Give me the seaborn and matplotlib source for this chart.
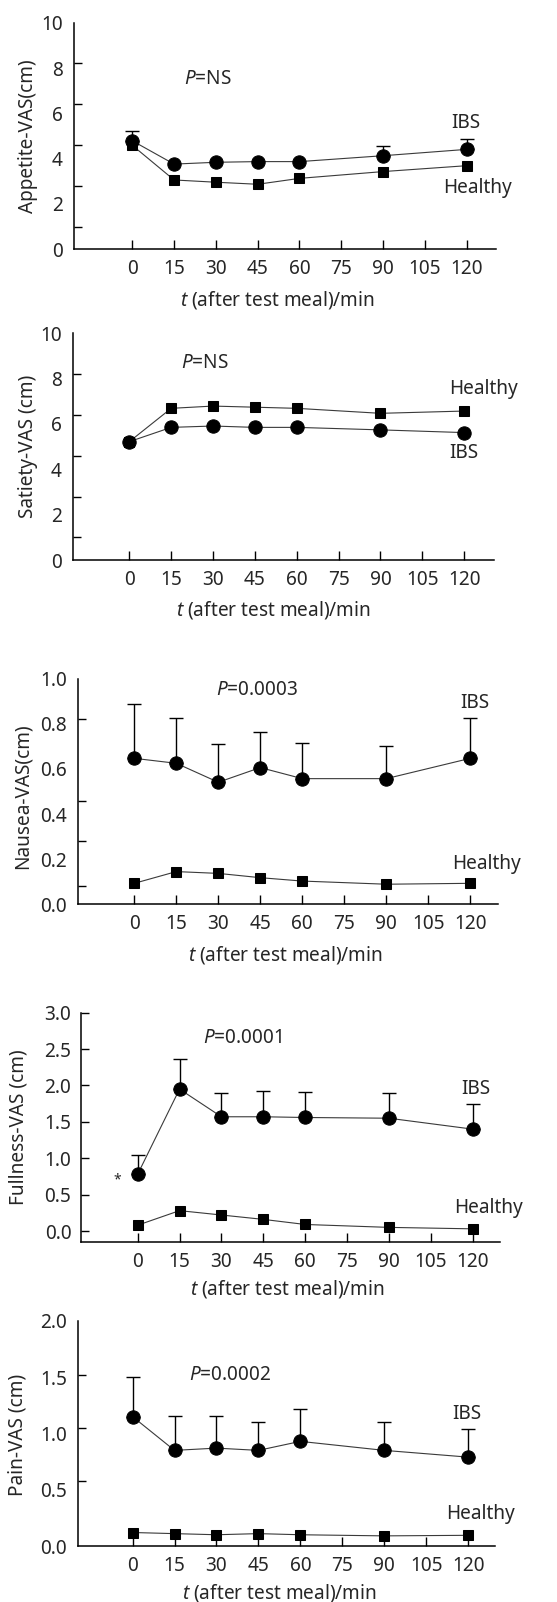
import matplotlib
matplotlib.use('Agg')
import matplotlib.pyplot as plt
import pandas as pd
import seaborn as sns

# time points and x tick labels
times = [0, 15, 30, 45, 60, 90, 120]
xticks = [0, 15, 30, 45, 60, 75, 90, 105, 120]

# values (IBS mean, IBS upper error end, healthy mean)
appetite_ibs = [4.79, 3.76, 3.84, 3.87, 3.87, 4.13, 4.41]
appetite_ibs_top = [5.24, None, None, None, None, 4.56, 4.85]
appetite_healthy = [4.59, 3.06, 2.96, 2.87, 3.13, 3.43, 3.69]

satiety_ibs = [5.22, 5.85, 5.91, 5.85, 5.85, 5.74, 5.62]
satiety_ibs_top = [None] * 7
satiety_healthy = [5.22, 6.69, 6.79, 6.74, 6.69, 6.47, 6.57]

nausea_ibs = [0.647, 0.625, 0.541, 0.606, 0.557, 0.557, 0.647]
nausea_ibs_top = [0.886, 0.827, 0.709, 0.765, 0.713, 0.703, 0.827]
nausea_healthy = [0.093, 0.145, 0.137, 0.118, 0.103, 0.089, 0.093]

fullness_ibs = [0.78, 1.95, 1.57, 1.57, 1.56, 1.55, 1.40]
fullness_ibs_top = [1.04, 2.36, 1.89, 1.92, 1.91, 1.89, 1.75]
fullness_healthy = [0.08, 0.28, 0.22, 0.16, 0.09, 0.05, 0.03]

pain_ibs = [1.15, 0.85, 0.87, 0.85, 0.93, 0.85, 0.79]
pain_ibs_top = [1.50, 1.16, 1.16, 1.10, 1.22, 1.10, 1.04]
pain_healthy = [0.12, 0.11, 0.10, 0.11, 0.10, 0.09, 0.095]

# y tick labels and the small tick marks as drawn in the original
labels_10 = [0, 2, 4, 6, 8, 10]
marks_10 = [10, 8.2, 6.4, 4.6, 2.8, 1.0]
labels_1 = [0.0, 0.2, 0.4, 0.6, 0.8, 1.0]
marks_1 = [1.0, 0.82, 0.46, 0.28, 0.08]
labels_3 = [0.0, 0.5, 1.0, 1.5, 2.0, 2.5, 3.0]
labels_2 = [0.0, 0.5, 1.0, 1.5, 2.0]
marks_2 = [2.0, 1.52, 1.05, 0.58]

W, H = 557, 1602

panels = [
    dict(ylabel='Appetite-VAS(cm)', ibs=appetite_ibs, top=appetite_ibs_top, healthy=appetite_healthy,
         box=(74, 22.7, 496, 249.3), xlim=(-20.9, 130.5), ylim=(0, 10),
         labels=labels_10, fmt='{:.0f}', marks=marks_10, ylab_xy=(-0.109, 0.5), xlab_xy=(0.481, -0.224),
         ptext='NS', p_xy=(27, 7.5), ibs_xy=(119.7, 5.57), healthy_xy=(124, 2.7)),
    dict(ylabel='Satiety-VAS (cm)', ibs=satiety_ibs, top=satiety_ibs_top, healthy=satiety_healthy,
         box=(72.7, 333.3, 494.3, 560), xlim=(-20.3, 130.8), ylim=(0, 10),
         labels=labels_10, fmt='{:.0f}', marks=marks_10, ylab_xy=(-0.106, 0.5), xlab_xy=(0.475, -0.221),
         ptext='NS', p_xy=(27, 8.69), ibs_xy=(120, 4.72), healthy_xy=(126.8, 7.54)),
    dict(ylabel='Nausea-VAS(cm)', ibs=nausea_ibs, top=nausea_ibs_top, healthy=nausea_healthy,
         box=(78.3, 678.7, 497.7, 904.3), xlim=(-20.0, 129.8), ylim=(0, 1.0),
         labels=labels_1, fmt='{:.1f}', marks=marks_1, ylab_xy=(-0.132, 0.48), xlab_xy=(0.493, -0.225),
         ptext='0.0003', p_xy=(43.9, 0.95), ibs_xy=(121.5, 0.892), healthy_xy=(125.7, 0.179)),
    dict(ylabel='Fullness-VAS (cm)', ibs=fullness_ibs, top=fullness_ibs_top, healthy=fullness_healthy,
         box=(81, 1012.7, 500, 1242.3), xlim=(-20.3, 129.8), ylim=(-0.155, 3.0),
         labels=labels_3, fmt='{:.1f}', marks=labels_3, ylab_xy=(-0.15, 0.5), xlab_xy=(0.492, -0.203),
         ptext='0.0001', p_xy=(37.7, 2.656), ibs_xy=(121.3, 1.95), healthy_xy=(125.6, 0.316),
         star_xy=(-7.2, 0.70)),
    dict(ylabel='Pain-VAS (cm)', ibs=pain_ibs, top=pain_ibs_top, healthy=pain_healthy,
         box=(78.3, 1321, 495, 1546), xlim=(-19.4, 129.6), ylim=(0, 2.0),
         labels=labels_2, fmt='{:.1f}', marks=marks_2, ylab_xy=(-0.145, 0.493), xlab_xy=(0.482, -0.209),
         ptext='0.0002', p_xy=(34.8, 1.52), ibs_xy=(119.5, 1.173), healthy_xy=(124.5, 0.284)),
]

sns.set_theme(style='ticks')
plt.rcParams['font.family'] = ['Noto Sans', 'DejaVu Sans']
plt.rcParams['mathtext.fontset'] = 'custom'
plt.rcParams['mathtext.rm'] = 'Noto Sans'
plt.rcParams['mathtext.it'] = 'Noto Sans:italic'
FS = 13.7

fig = plt.figure(figsize=(W / 100, H / 100), dpi=100)

for p in panels:
    l, t, r, b = p['box']
    ax = fig.add_axes([l / W, 1 - b / H, (r - l) / W, (b - t) / H])

    df = pd.DataFrame({'t': times, 'IBS': p['ibs'], 'Healthy': p['healthy']})

    # upper error bars for IBS
    err = df.assign(top=p['top']).dropna(subset=['top'])
    if len(err):
        ax.errorbar(err['t'], err['IBS'], yerr=[[0] * len(err), err['top'] - err['IBS']],
                    fmt='none', ecolor='black', elinewidth=1.0, capsize=4.7, capthick=1.0, zorder=2)

    sns.lineplot(data=df, x='t', y='Healthy', ax=ax, color='#3a3a3a', linewidth=0.8,
                 marker='s', markersize=7.8, markerfacecolor='black', markeredgecolor='black', zorder=3)
    sns.lineplot(data=df, x='t', y='IBS', ax=ax, color='#3a3a3a', linewidth=0.8,
                 marker='o', markersize=9.6, markerfacecolor='black', markeredgecolor='black', zorder=4)

    ax.set_xlim(*p['xlim'])
    ax.set_ylim(*p['ylim'])
    sns.despine(ax=ax)
    for s in ['left', 'bottom']:
        ax.spines[s].set_linewidth(1.1)
        ax.spines[s].set_color('black')

    ax.set_xticks(xticks)
    ax.set_xticklabels([str(v) for v in xticks], fontsize=FS)
    ax.tick_params(axis='x', direction='in', length=6.5, width=1.0, pad=7, color='black')

    ax.set_yticks(p['labels'])
    ax.set_yticklabels([p['fmt'].format(v) for v in p['labels']], fontsize=FS)
    ax.set_yticks(p['marks'], minor=True)
    ax.tick_params(axis='y', which='major', length=0, pad=8)
    ax.tick_params(axis='y', which='minor', direction='in', length=6, width=1.0, color='black')
    if p['marks'] is p['labels']:
        ax.tick_params(axis='y', which='major', direction='in', length=6, width=1.0, color='black', pad=7)

    ax.set_ylabel(p['ylabel'], fontsize=FS)
    ax.yaxis.label.set_va('center')
    ax.yaxis.set_label_coords(*p['ylab_xy'])
    ax.set_xlabel(r'$\mathit{t}$ (after test meal)/min', fontsize=FS)
    ax.xaxis.label.set_va('center')
    ax.xaxis.set_label_coords(*p['xlab_xy'])

    ax.text(*p['p_xy'], r'$\mathit{P}$=' + p['ptext'], fontsize=FS, ha='center', va='center')
    ax.text(*p['ibs_xy'], 'IBS', fontsize=FS, ha='center', va='center')
    ax.text(*p['healthy_xy'], 'Healthy', fontsize=FS, ha='center', va='center', clip_on=False)
    if 'star_xy' in p:
        ax.text(*p['star_xy'], '*', fontsize=10, ha='center', va='center')

fig.savefig('out.png', dpi=100)
